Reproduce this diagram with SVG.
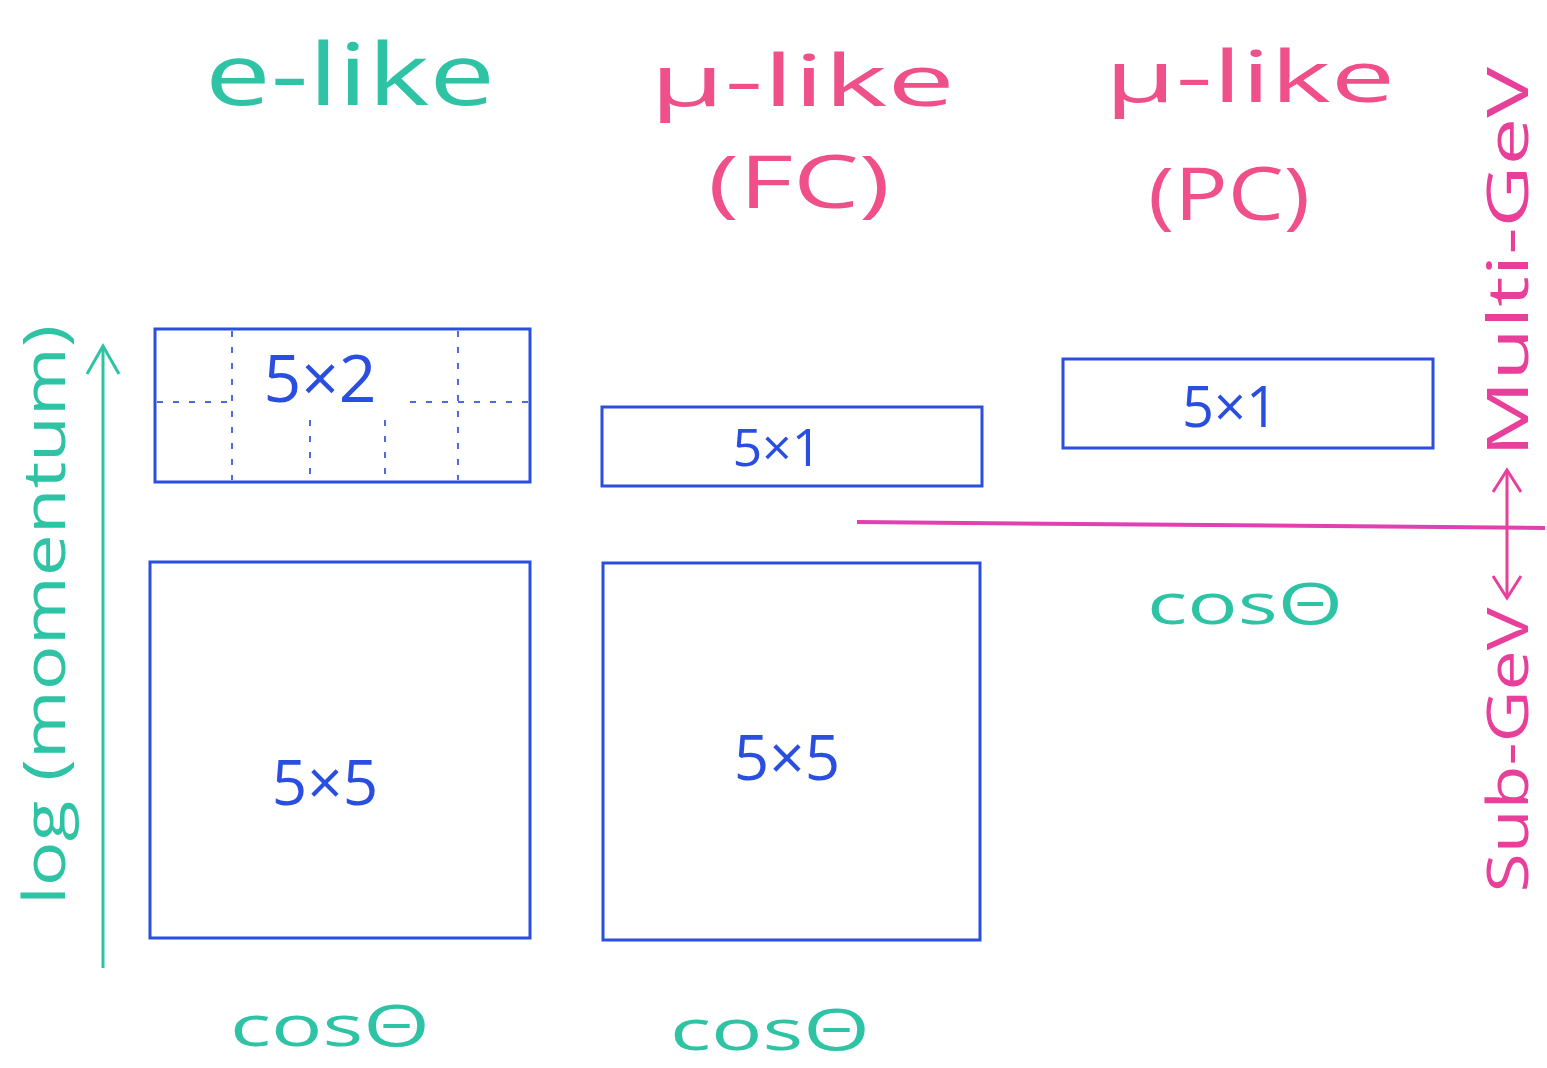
<svg xmlns="http://www.w3.org/2000/svg" width="1547" height="1068" viewBox="0 0 1547 1068">
<defs>
<style>
.teal{fill:#2fc3a5;font-family:"Open Sans","Liberation Sans",sans-serif}
.pink{fill:#f0508a;font-family:"Open Sans","Liberation Sans",sans-serif}
.mag{fill:#e8409a;font-family:"Open Sans","Liberation Sans",sans-serif}
.blue{fill:#2a4fe0;font-family:"Open Sans","Liberation Sans",sans-serif}
.box{fill:none;stroke:#2a4fe0;stroke-width:3}
.dash{fill:none;stroke:#4a6ae8;stroke-width:2;stroke-dasharray:6 10}
</style>
<marker id="tealHead" viewBox="0 0 40 40" refX="36" refY="20" markerWidth="40" markerHeight="40" markerUnits="userSpaceOnUse" orient="auto-start-reverse">
<path d="M8,4 L36,20 L8,36" fill="none" stroke="#2fc3a5" stroke-width="3"/>
</marker>
<marker id="magHead" viewBox="0 0 40 40" refX="36" refY="20" markerWidth="40" markerHeight="40" markerUnits="userSpaceOnUse" orient="auto-start-reverse">
<path d="M14,6 L36,20 L14,34" fill="none" stroke="#e8409a" stroke-width="3"/>
</marker>
</defs>
<rect width="1547" height="1068" fill="#ffffff"/>

<g id="headers">
<text class="teal" x="205" y="105" font-size="86" textLength="290" lengthAdjust="spacingAndGlyphs">e-like</text>
<text class="pink" x="650" y="106" font-size="72" textLength="305" lengthAdjust="spacingAndGlyphs">μ-like</text>
<text class="pink" x="708" y="208" font-size="74" textLength="182" lengthAdjust="spacingAndGlyphs">(FC)</text>
<text class="pink" x="1105" y="102" font-size="72" textLength="290" lengthAdjust="spacingAndGlyphs">μ-like</text>
<text class="pink" x="1148" y="220" font-size="74" textLength="162" lengthAdjust="spacingAndGlyphs">(PC)</text>
</g>

<g id="axis-label">
<text class="teal" transform="translate(65,615) rotate(-90)" text-anchor="middle" font-size="58" textLength="580" lengthAdjust="spacingAndGlyphs">log (momentum)</text>
</g>

<g id="energy-label">
<text class="mag" transform="translate(1528,262) rotate(-90)" text-anchor="middle" font-size="56" textLength="390" lengthAdjust="spacingAndGlyphs">Multi-GeV</text>
<text class="mag" transform="translate(1528,750) rotate(-90)" text-anchor="middle" font-size="56" textLength="285" lengthAdjust="spacingAndGlyphs">Sub-GeV</text>
</g>

<g id="e-5x2">
<rect class="box" x="155" y="329" width="375" height="153"/>
<path class="dash" d="M157,402 H230 M410,402 H528 M232,331 V480 M310,420 V480 M385,420 V480 M458,331 V480"/>
<text class="blue" x="320" y="402" font-size="66" text-anchor="middle">5×2</text>
</g>

<g id="mu-fc-5x1">
<rect class="box" x="602" y="407" width="380" height="79"/>
<text class="blue" x="777" y="466" font-size="52" text-anchor="middle">5×1</text>
</g>

<g id="mu-pc-5x1">
<rect class="box" x="1063" y="359" width="370" height="89"/>
<text class="blue" x="1230" y="427" font-size="56" text-anchor="middle">5×1</text>
</g>

<g id="e-5x5">
<rect class="box" x="150" y="562" width="380" height="376"/>
<text class="blue" x="325" y="805" font-size="62" text-anchor="middle">5×5</text>
</g>

<g id="mu-fc-5x5">
<rect class="box" x="603" y="563" width="377" height="377"/>
<text class="blue" x="787" y="780" font-size="62" text-anchor="middle">5×5</text>
</g>

<g id="cos-labels">
<text class="teal" x="330" y="1046" font-size="56" text-anchor="middle" textLength="200" lengthAdjust="spacingAndGlyphs">cosΘ</text>
<text class="teal" x="770" y="1050" font-size="56" text-anchor="middle" textLength="200" lengthAdjust="spacingAndGlyphs">cosΘ</text>
<text class="teal" x="1245" y="624" font-size="56" text-anchor="middle" textLength="196" lengthAdjust="spacingAndGlyphs">cosΘ</text>
</g>

<g id="connectors">
<line x1="103" y1="968" x2="103" y2="346" stroke="#2fc3a5" stroke-width="3" marker-end="url(#tealHead)"/>
<line x1="857" y1="522" x2="1545" y2="528" stroke="#e040b0" stroke-width="4"/>
<line x1="1507" y1="470" x2="1507" y2="598" stroke="#e8409a" stroke-width="3" marker-start="url(#magHead)" marker-end="url(#magHead)"/>
</g>
</svg>
